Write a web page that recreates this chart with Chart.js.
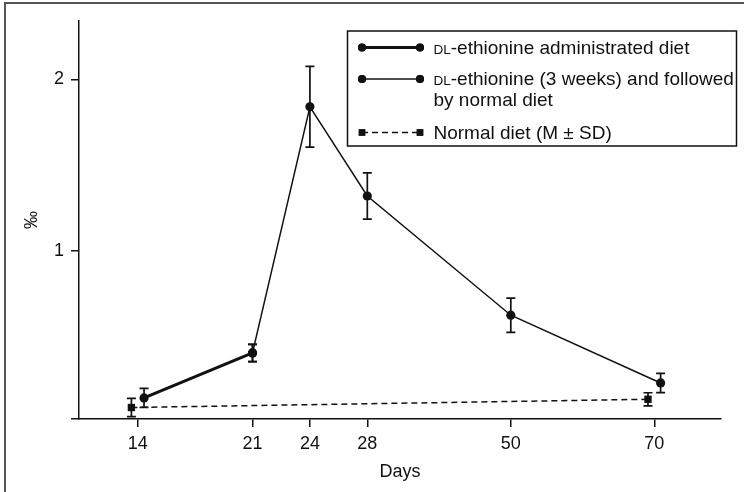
<!DOCTYPE html>
<html>
<head>
<meta charset="utf-8">
<script src="https://cdn.jsdelivr.net/npm/chart.js@4.4.1/dist/chart.umd.min.js"></script>
<style>
  html, body { margin: 0; padding: 0; background: #fff; }
  #wrap { width: 744px; height: 492px; position: relative; }
  canvas { display: block; }
</style>
</head>
<body>
<div id="wrap"><canvas id="c" width="744" height="492"></canvas></div>
<script>
// Sampling days shown on the x axis
const dayTicks = [14, 21, 24, 28, 50, 70];

// DL-ethionine administrated diet (mean, SD)
const ethDays = [14, 21];
const ethMean = [0.143, 0.405];
const ethSD   = [0.055, 0.05];

// DL-ethionine for 3 weeks, then normal diet (mean, SD)
const recDays = [21, 24, 28, 50, 70];
const recMean = [0.405, 1.84, 1.32, 0.625, 0.23];
const recSD   = [0.05, 0.235, 0.135, 0.10, 0.056];

// Normal diet controls (mean, SD)
const ctrlDays = [14, 70];
const ctrlMean = [0.087, 0.135];
const ctrlSD   = [0.053, 0.038];

const seriesLabels = [
  'DL-ethionine administrated diet',
  'DL-ethionine (3 weeks) and followed by normal diet',
  'Normal diet (M \u00b1 SD)'
];

const FONT = '"Liberation Sans", Arial, Helvetica, sans-serif';
const INK = '#111';

// The day axis is broken: ticks are spaced by hand rather than in proportion to days.
const tickGaps = [2, 1, 1, 2.5, 2.5];
function slotOf(day) {
  let s = 0;
  for (let i = 0; i < dayTicks.length; i++) {
    if (dayTicks[i] === day) return s;
    s += tickGaps[i] || 0;
  }
  return s;
}
// Ethionine groups and controls sampled on the same day are nudged apart.
const DODGE = 0.11;
function points(days, means) {
  const isCtrl = days === ctrlDays;
  return days.map((d, i) => ({
    x: slotOf(d) + (isCtrl ? -DODGE : (ctrlDays.includes(d) ? DODGE : 0)),
    y: means[i]
  }));
}

// Vertical SD bars with caps, drawn through the chart scales
const errorBarPlugin = {
  id: 'errorBars',
  afterDatasetsDraw(chart) {
    const { ctx } = chart;
    const y = chart.scales.y;
    chart.data.datasets.forEach((ds, di) => {
      if (!ds.sd) return;
      const meta = chart.getDatasetMeta(di);
      meta.data.forEach((pt, i) => {
        const m = ds.data[i].y, s = ds.sd[i];
        const yt = y.getPixelForValue(m + s);
        const yb = y.getPixelForValue(m - s);
        const cap = 4.5;
        ctx.save();
        ctx.strokeStyle = INK;
        ctx.lineWidth = 1.7;
        ctx.beginPath();
        ctx.moveTo(pt.x, yt); ctx.lineTo(pt.x, yb);
        ctx.moveTo(pt.x - cap, yt); ctx.lineTo(pt.x + cap, yt);
        ctx.moveTo(pt.x - cap, yb); ctx.lineTo(pt.x + cap, yb);
        ctx.stroke();
        ctx.restore();
      });
    });
  }
};

// Boxed legend with sample lines and a small-caps "DL" prefix
const boxLegendPlugin = {
  id: 'boxLegend',
  afterDraw(chart) {
    const { ctx } = chart;
    const box = { l: 347.5, t: 31, r: 736.5, b: 146 };
    ctx.save();
    // outer figure frame (top and left edges)
    ctx.strokeStyle = '#555';
    ctx.lineWidth = 2;
    ctx.beginPath();
    ctx.moveTo(5, 500); ctx.lineTo(5, 3); ctx.lineTo(750, 3);
    ctx.stroke();

    ctx.strokeStyle = INK;
    ctx.lineWidth = 1.5;
    ctx.strokeRect(box.l, box.t, box.r - box.l, box.b - box.t);

    const rows = [
      { lines: [seriesLabels[0]], y: 47.5, base: [53.5] },
      { lines: ['DL-ethionine (3 weeks) and followed', 'by normal diet'], y: 79, base: [84.5, 105.5] },
      { lines: [seriesLabels[2]], y: 132.5, base: [139] }
    ];
    const x0 = 362, x1 = 420, tx = 433.5;
    rows.forEach((row, i) => {
      const ds = chart.data.datasets[i];
      ctx.save();
      ctx.strokeStyle = INK;
      ctx.fillStyle = INK;
      ctx.lineWidth = ds.borderWidth;
      ctx.setLineDash(ds.borderDash || []);
      ctx.beginPath();
      ctx.moveTo(x0, row.y); ctx.lineTo(x1, row.y);
      ctx.stroke();
      ctx.setLineDash([]);
      [x0, x1].forEach(px => {
        Chart.helpers.drawPoint(ctx, { pointStyle: ds.pointStyle, radius: ds.pointStyle === 'rect' ? 4.6 : 4, borderWidth: 0, rotation: 0 }, px, row.y);
        ctx.fill();
      });
      ctx.restore();

      ctx.fillStyle = INK;
      ctx.textBaseline = 'alphabetic';
      ctx.textAlign = 'left';
      row.lines.forEach((txt, k) => {
        let x = tx;
        if (txt.startsWith('DL')) {
          ctx.font = '13.5px ' + FONT;
          ctx.fillText('DL', x, row.base[k]);
          x += ctx.measureText('DL').width;
          txt = txt.slice(2);
        }
        ctx.font = '19px ' + FONT;
        ctx.fillText(txt, x, row.base[k]);
      });
    });
    ctx.restore();
  }
};

const Y_MIN = 0.02, Y_MAX = 2.34;

new Chart(document.getElementById('c'), {
  type: 'line',
  data: {
    datasets: [
      {
        label: seriesLabels[0],
        data: points(ethDays, ethMean),
        sd: ethSD,
        borderColor: INK, backgroundColor: INK,
        borderWidth: 3,
        pointStyle: 'circle', pointRadius: 4.6, pointBorderWidth: 0,
        tension: 0
      },
      {
        label: seriesLabels[1],
        data: points(recDays, recMean),
        sd: recSD,
        borderColor: INK, backgroundColor: INK,
        borderWidth: 1.5,
        pointStyle: 'circle', pointRadius: 4.6, pointBorderWidth: 0,
        tension: 0
      },
      {
        label: seriesLabels[2],
        data: points(ctrlDays, ctrlMean),
        sd: ctrlSD,
        borderColor: INK, backgroundColor: INK,
        borderWidth: 1.5,
        borderDash: [6, 4],
        pointStyle: 'rect', pointRadius: 5.2, pointBorderWidth: 0,
        tension: 0
      }
    ]
  },
  options: {
    responsive: false,
    animation: false,
    devicePixelRatio: 1,
    layout: { padding: { left: 0, top: 21, right: 23, bottom: 0 } },
    plugins: { legend: { display: false }, tooltip: { enabled: false } },
    scales: {
      x: {
        type: 'linear',
        min: -1.023,
        max: 10.162,
        afterBuildTicks: s => { s.ticks = dayTicks.map(d => ({ value: slotOf(d) })); },
        afterFit: s => { s.height = 73; },
        ticks: {
          callback: (v, i) => String(dayTicks[i]),
          color: INK,
          font: { family: FONT, size: 18 },
          padding: 6,
          maxRotation: 0,
          autoSkip: false
        },
        grid: { drawOnChartArea: false, drawTicks: true, tickLength: 8, color: INK, lineWidth: 1.5 },
        border: { display: true, color: INK, width: 1.5 },
        title: { display: true, text: 'Days', color: INK, font: { family: FONT, size: 18 }, padding: { top: 0, bottom: 9 } }
      },
      y: {
        type: 'linear',
        min: Y_MIN,
        max: Y_MAX,
        afterBuildTicks: s => { s.ticks = [{ value: Y_MIN }, { value: 1 }, { value: 2 }]; },
        afterFit: s => { s.width = 79; },
        ticks: {
          callback: v => (v === 1 || v === 2) ? String(v) : '',
          color: INK,
          font: { family: FONT, size: 18 },
          padding: 7
        },
        grid: { drawOnChartArea: false, drawTicks: true, tickLength: 8, color: INK, lineWidth: 1.5 },
        border: { display: true, color: INK, width: 1.5 },
        title: { display: true, text: '\u2030', color: INK, font: { family: FONT, size: 18 }, padding: { top: 21, bottom: 0 } }
      }
    }
  },
  plugins: [errorBarPlugin, boxLegendPlugin]
});
</script>
</body>
</html>
